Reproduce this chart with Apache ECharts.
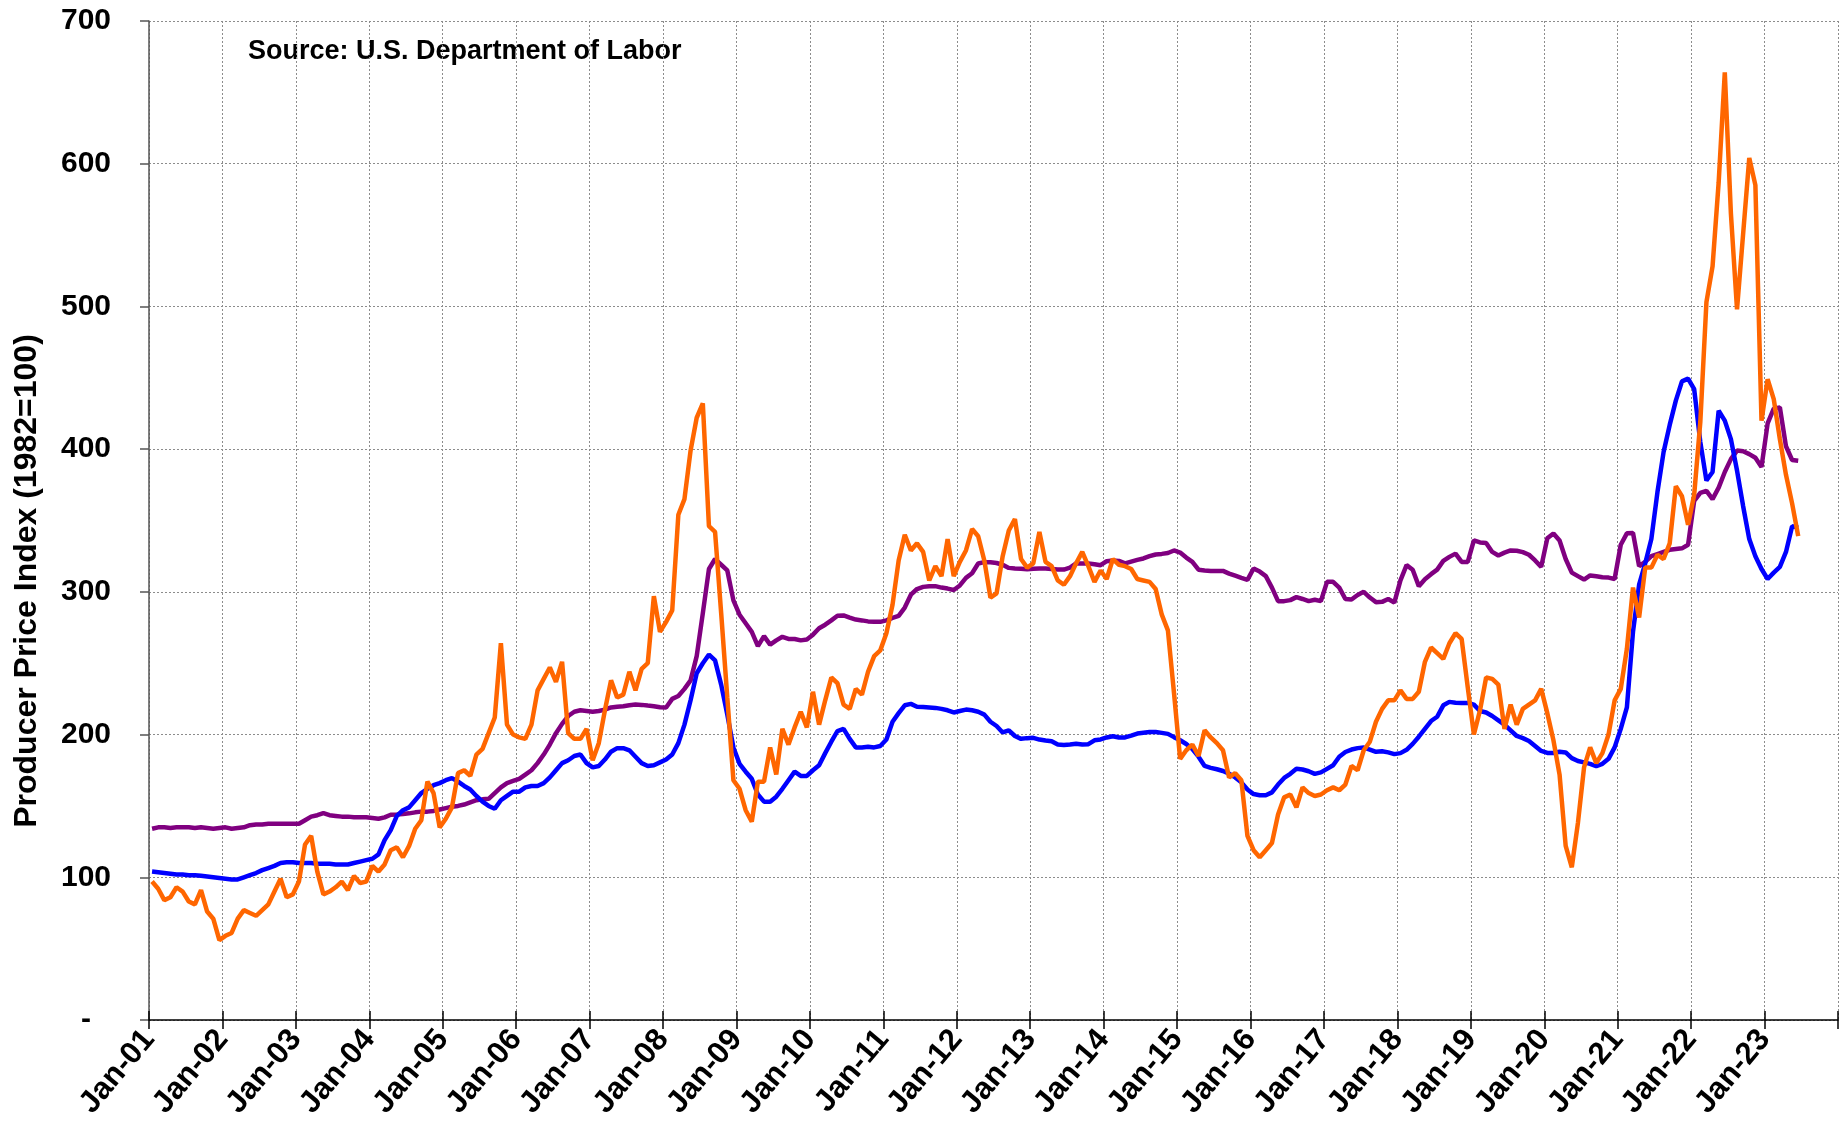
<!DOCTYPE html>
<html>
<head>
<meta charset="utf-8">
<script src="https://cdn.jsdelivr.net/npm/echarts@6/dist/echarts.min.js"></script>
<style>
html,body{margin:0;padding:0;background:#fff;}
#chart{width:1845px;height:1133px;}
</style>
</head>
<body>
<div id="chart"></div>
<script>
// Year labels (Jan of each year); axis runs Jan-01 .. Jan-24
const yearLabels = ['01','02','03','04','05','06','07','08','09','10','11','12','13','14','15','16','17','18','19','20','21','22','23','24'];
const monthNames = ['Jan','Feb','Mar','Apr','May','Jun','Jul','Aug','Sep','Oct','Nov','Dec'];

// Monthly values Jan-01 .. Jun-23 (one row per year)
const orangeSeries = [
  97, 92, 84, 86, 93, 90, 83, 81, 91, 76, 71, 56,
  59, 61, 71, 77, 75, 73, 77, 81, 90, 99, 86, 88,
  97, 123, 129, 104, 88, 90, 93, 97, 91, 101, 96, 97,
  108, 104, 109, 119, 121, 114, 122, 134, 140, 167, 159, 135,
  141, 149, 173, 175, 171, 186, 190, 201, 212, 264, 207, 200,
  198, 197, 207, 231, 239, 247, 237, 251, 201, 197, 197, 204,
  182, 194, 217, 238, 226, 228, 244, 231, 246, 250, 297, 272,
  279, 287, 354, 365, 399, 422, 432, 346, 342, 285, 226, 168,
  162, 147, 139, 167, 167, 191, 172, 204, 193, 205, 216, 205,
  230, 207, 224, 240, 236, 221, 218, 232, 228, 244, 255, 259,
  271, 291, 322, 340, 329, 334, 328, 308, 318, 311, 337, 311,
  321, 329, 344, 339, 322, 296, 299, 325, 343, 351, 323, 317,
  320, 342, 321, 318, 308, 305, 311, 320, 328, 318, 307, 315,
  309, 323, 319, 318, 316, 309, 308, 307, 302, 284, 273, 229,
  183, 189, 193, 185, 203, 198, 194, 189, 170, 173, 168, 129,
  119, 114, 119, 124, 144, 156, 158, 149, 163, 159, 157, 158,
  161, 163, 161, 165, 178, 175, 189, 195, 209, 218, 224, 224,
  231, 225, 225, 230, 251, 261, 257, 253, 264, 271, 267, 233,
  200, 217, 240, 239, 235, 204, 221, 207, 218, 221, 224, 232,
  215, 196, 172, 122, 107, 138, 177, 191, 180, 187, 200, 224,
  232, 260, 303, 282, 317, 317, 326, 323, 334, 374, 367, 347,
  368, 419, 503, 528, 587, 664, 565, 498, 551, 604, 585, 420,
  449, 435, 407, 382, 362, 339
];
const blueSeries = [
  104, 103.5, 103, 102.5, 102, 102, 101.5, 101.5, 101, 100.5, 100, 99.5,
  99, 98.5, 98.5, 100, 101.5, 103, 105, 106.5, 108, 110, 110.5, 110.5,
  110, 110, 110, 109.5, 109.5, 109.5, 109, 109, 109, 110, 111, 112,
  113, 116, 126, 133, 143, 147, 149, 154, 159, 162, 164.5, 166,
  168, 169.5, 167, 164, 161.5, 157, 153, 150, 148, 154, 157, 160,
  160, 163, 164, 164, 166, 170, 175, 180, 182, 185, 186, 180,
  177, 178, 182.5, 188, 190.5, 190.5, 189, 184.5, 180, 178, 178.5, 180.5,
  182.5, 186, 194, 207, 224, 243, 250, 256, 252, 235, 214, 191,
  179.5, 174, 169, 158, 153, 153, 156.5, 162, 168, 174, 171, 171,
  175, 178.5, 187, 195, 202.5, 204, 197, 191, 191, 191.5, 191, 192,
  196.5, 209, 215, 220.5, 221.5, 219.5, 219.3, 219, 218.7, 218, 217, 215.5,
  216.5, 217.5, 217, 216, 214, 209, 206, 201.5, 203, 199, 197, 197.5,
  197.7, 196.5, 195.8, 195.3, 193, 192.7, 193, 193.5, 193, 193.3, 196, 196.6,
  198, 198.8, 197.9, 198, 199.3, 200.7, 201.3, 201.8, 201.8, 201.2, 200.5, 198.2,
  196, 193.4, 189.8, 184.5, 178, 176.7, 175.7, 174.5, 172.5, 170, 166.5, 161.5,
  158.3, 157.5, 157.5, 159.5, 165, 169.6, 172.5, 176, 175.5, 174.3, 172.5, 173.5,
  176, 178.5, 184.5, 187.8, 189.5, 190.5, 190.9, 189.5, 187.9, 188.3, 187.5, 186.3,
  187, 189.3, 193.5, 198.5, 204, 209.5, 212.5, 220.5, 222.9, 222.3, 222.1, 222.2,
  221, 216.5, 215.5, 213, 210, 207, 203, 199, 197.5, 195.5, 192, 188.5,
  187.1, 187.1, 188, 187.5, 183.5, 181.5, 180.5, 179.5, 177.8, 179.5, 183, 191,
  204, 219, 272, 305, 320, 337, 370, 398, 417, 434, 447.5, 449.4,
  442, 405, 378, 384, 427, 420, 407, 385, 360, 337, 325, 316,
  309, 313.5, 317.5, 328, 346, 345
];
const purpleSeries = [
  134, 135, 135, 134.5, 135, 135, 135, 134.5, 135, 134.5, 134, 134.5,
  135, 134, 134.5, 135, 136.5, 137, 137, 137.5, 137.5, 137.5, 137.5, 137.5,
  137.5, 140, 142.5, 143.5, 145, 143.5, 143, 142.5, 142.5, 142, 142, 142,
  141.5, 141, 142, 143.8, 144, 144.3, 144.8, 145.5, 146, 146, 146.5, 147.5,
  148.5, 149.5, 150, 151, 152.5, 154, 154.6, 155, 159, 163, 166, 167.5,
  169, 172, 175, 180, 186, 193, 201, 207.5, 213, 216, 217, 216.5,
  216, 216.5, 217.5, 219, 219.5, 219.8, 220.5, 221, 220.8, 220.3, 219.9, 219.2,
  219, 225, 227, 232, 238, 255, 285, 316, 323, 319, 315, 294,
  284, 278, 272, 262, 269, 263, 266, 268.5, 267, 267, 266, 266.6,
  270, 274.5, 277, 280, 283.3, 283.5, 282, 280.6, 280, 279.3, 279, 279,
  280, 281.8, 283.2, 289, 298, 302, 303.5, 304, 304, 303, 302.3, 301.3,
  304.5, 309.8, 313, 319.9, 320.8, 320.8, 320.2, 319, 316.8, 316.4, 316.2, 315.8,
  316.2, 316.4, 316.4, 316, 315.6, 315.6, 317, 319.9, 319.9, 319.9, 319.4, 318.7,
  321.5, 322, 321.7, 320, 321.2, 322.4, 323.4, 325, 326.2, 326.6, 327.2, 329,
  327.5, 324, 321, 315.5, 315, 314.6, 314.6, 314.7, 312.8, 311.3, 309.8, 308.4,
  316.4, 314.2, 311, 303, 293.5, 293.5, 294.2, 296.3, 295, 293.5, 294.5, 293.5,
  307, 307, 303, 295, 294.6, 297.8, 300, 296, 292.8, 293, 295, 292.5,
  308, 318.7, 315.5, 304, 308.9, 312.4, 315.6, 321.7, 324.5, 326.8, 321, 321,
  336, 334.6, 334.3, 328, 325.5, 327.5, 329, 328.8, 327.8, 326, 322, 317.5,
  337.5, 340.9, 336, 323, 313.5, 311, 308.6, 311.5, 311, 310.3, 310, 309,
  333, 341, 341.3, 318, 321, 325, 326.5, 328, 329.5, 330, 330.5, 333,
  363.8, 369.4, 370.8, 365, 373, 384, 393, 399, 398.5, 396.5, 394, 387.5,
  418, 428.4, 429.2, 402, 392.4, 391.9
];

// Month categories: data axis has one band per month (Jan-01 .. Dec-23),
// the label axis has the year boundaries (Jan-01 .. Jan-24).
const monthCategories = [];
const boundaryCategories = [];
yearLabels.forEach(function (yy, yi) {
  monthNames.forEach(function (mn, mi) {
    if (yi < yearLabels.length - 1) monthCategories.push(mn + '-' + yy);
    if (yi < yearLabels.length - 1 || mi === 0) boundaryCategories.push(mn + '-' + yy);
  });
});

const FONT = "'Liberation Sans', Arial, sans-serif";
const chart = echarts.init(document.getElementById('chart'), null, {renderer: 'canvas'});
const isYearStart = function (idx) { return idx % 12 === 0; };

chart.setOption({
  animation: false,
  backgroundColor: '#ffffff',
  grid: {left: 149, right: 7, top: 21, bottom: 113, containLabel: false},
  graphic: [
    {type: 'text', left: 248, top: 38, style: {text: 'Source: U.S. Department of Labor', font: 'bold 27px ' + FONT, fill: '#000'}},
    {type: 'text', x: 27, y: 581, rotation: Math.PI / 2,
     style: {text: 'Producer Price Index (1982=100)', font: 'bold 32px ' + FONT, fill: '#000', align: 'center', verticalAlign: 'middle'}}
  ],
  xAxis: [{
    type: 'category',
    data: monthCategories,
    boundaryGap: true,
    axisLine: {show: true, lineStyle: {color: '#000', width: 1.5}},
    axisTick: {show: true, inside: true, interval: function (i) { return isYearStart(i); }, length: 9, lineStyle: {color: '#000', width: 1.5}},
    axisLabel: {show: false},
    splitLine: {show: false}
  }, {
    type: 'category',
    data: boundaryCategories,
    boundaryGap: false,
    position: 'bottom',
    axisLine: {show: false},
    axisTick: {interval: function (i) { return isYearStart(i); }, length: 9, lineStyle: {color: '#000', width: 1.5}},
    axisLabel: {
      interval: function (i) { return isYearStart(i); },
      rotate: 50, margin: 14,
      fontFamily: FONT, fontWeight: 'bold', fontSize: 31, color: '#000',
      formatter: function (v) { return v === 'Jan-' + yearLabels[yearLabels.length - 1] ? '' : v; }
    },
    splitLine: {show: true, interval: function (i) { return isYearStart(i); }, lineStyle: {color: '#8c8c8c', type: [2, 2], width: 1}}
  }],
  yAxis: {
    type: 'value', min: 0, max: 700, interval: 100,
    axisLine: {show: true, lineStyle: {color: '#555', width: 1.5}},
    axisTick: {show: true, length: 9, lineStyle: {color: '#555', width: 1.5}},
    axisLabel: {
      align: 'center', margin: 63,
      fontFamily: FONT, fontWeight: 'bold', fontSize: 30, color: '#000',
      formatter: function (v) { return v === 0 ? '-' : String(v); }
    },
    splitLine: {show: true, lineStyle: {color: '#8c8c8c', type: [2, 2], width: 1}}
  },
  series: [
    {name: 'Purple', type: 'line', xAxisIndex: 0, data: purpleSeries, showSymbol: false, symbol: 'none',
     lineStyle: {color: '#800080', width: 4.5}, itemStyle: {color: '#800080'}},
    {name: 'Blue', type: 'line', xAxisIndex: 0, data: blueSeries, showSymbol: false, symbol: 'none',
     lineStyle: {color: '#0000FF', width: 4.5}, itemStyle: {color: '#0000FF'}},
    {name: 'Orange', type: 'line', xAxisIndex: 0, data: orangeSeries, showSymbol: false, symbol: 'none',
     lineStyle: {color: '#FF6600', width: 4.5}, itemStyle: {color: '#FF6600'}}
  ]
});
</script>
</body>
</html>
